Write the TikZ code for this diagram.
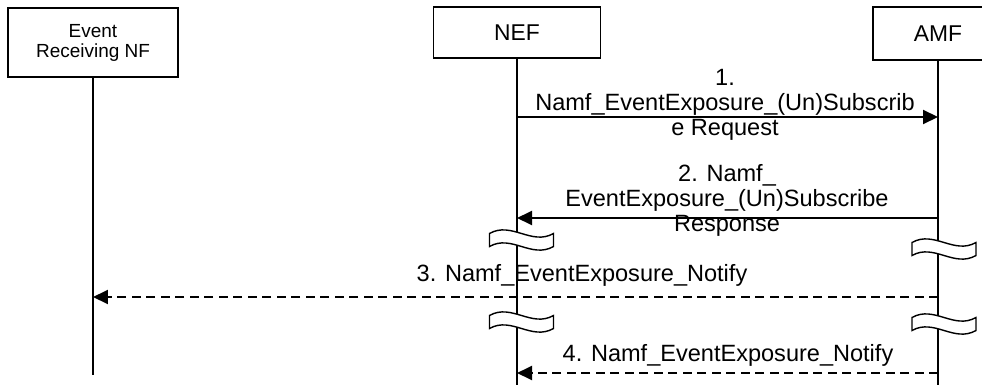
\documentclass[tikz,border=0pt]{standalone}
\usepackage{fontspec}
\setmainfont{Liberation Sans}
\usetikzlibrary{arrows.meta,calc,positioning}

\begin{document}
\begin{tikzpicture}[x=0.02cm,y=-0.02cm,>={Triangle[length=0.3cm,width=0.28cm]},
  entity/.style={draw,line width=0.8pt,inner sep=0pt,align=center,font=\fontsize{13}{14}\selectfont},
  lifeline/.style={line width=0.8pt},
  msg/.style={line width=1.1pt,->},
  reply/.style={msg,dash pattern=on 0.18cm off 0.11cm},
  label/.style={align=center,inner sep=0pt,font=\fontsize{13.4}{14.2}\selectfont},
  lbreak/.pic={\filldraw[fill=white,line width=0.8pt] (-32,-6.5) .. controls (-10,-19) and (10,6) .. (32,-6.5)
    -- (32,6.5) .. controls (10,19) and (-10,-6) .. (-32,6.5) -- cycle;}]

\useasboundingbox (0,0) rectangle (982,385);
\clip (0,0) rectangle (982,385);

% entities
\node[entity,minimum width=3.4cm,minimum height=1.38cm,font=\fontsize{10.8}{11.4}\selectfont] (ernf) at (93,42.5) {Event\\Receiving NF};
\node[entity,minimum width=3.34cm,minimum height=1.02cm] (nef) at (517,32.5) {NEF};
\node[entity,minimum width=2.6cm,minimum height=1.06cm] (amf) at (938,33.5) {AMF};

\coordinate (ernf end) at (93,375);
\coordinate (nef end) at (517,385);
\coordinate (amf end) at (938,385);

\draw[lifeline] (ernf) -- (ernf end);
\draw[lifeline] (nef) -- (nef end);
\draw[lifeline] (amf) -- (amf end);

% message points on the lifelines
\foreach \m/\y in {1/117,2/218,3/297,4/373}{
  \coordinate (nef\m) at (517,\y);
  \coordinate (amf\m) at (938,\y);
}
\coordinate (ernf3) at (93,297);

\draw[msg] (nef1) -- (amf1);
\draw[msg] (amf2) -- (nef2);
\draw[reply] (amf3) -- (ernf3);
\draw[reply] (amf4) -- (nef4);

% breaks
\pic at (521.5,240) {lbreak};
\pic at (521.5,322) {lbreak};
\pic at (944,249) {lbreak};
\pic at (944,324) {lbreak};

\node[label] (t1) at (725,105) {1.\\Namf\_EventExposure\_(Un)Subscrib\\e Request};
\node[label] (t2) at (727,200) {2. Namf\_\\EventExposure\_(Un)Subscribe\\Response};
\node[label,anchor=base] (t3) at (582,281) {3. Namf\_EventExposure\_Notify};
\node[label,anchor=base] (t4) at (728,361) {4. Namf\_EventExposure\_Notify};
\end{tikzpicture}
\end{document}
